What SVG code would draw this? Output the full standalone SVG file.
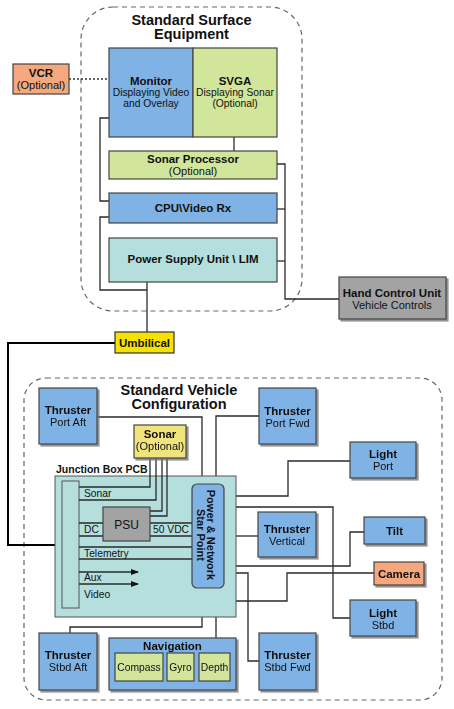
<svg xmlns="http://www.w3.org/2000/svg" width="454" height="709" viewBox="0 0 454 709">
<defs>
<style>
text{font-family:"Liberation Sans",Arial,sans-serif;fill:#111}
.b{font-weight:bold;font-size:11.5px}
.r{font-size:11px}
.s{font-size:10.3px}
.t{font-weight:bold;font-size:14.5px}
.m{text-anchor:middle}
.box{stroke:#444;stroke-width:1.2}
.blue{fill:#7FB2E5}
.green{fill:#D1E69B}
.teal{fill:#B4DFDD}
.orange{fill:#F5A77D}
.gray{fill:#A3A3A3}
.yel{fill:#F2E47C}
.c{fill:none;stroke:#2a2a2a;stroke-width:1.3}
.cont{fill:none;stroke:#666;stroke-width:1.2;stroke-dasharray:5,4}
</style>
<filter id="sh" x="-10%" y="-10%" width="130%" height="130%">
<feDropShadow dx="2" dy="2" stdDeviation="0.7" flood-color="#777" flood-opacity="0.8"/>
</filter>
<marker id="arr" markerWidth="8" markerHeight="6" refX="7" refY="3" orient="auto" markerUnits="userSpaceOnUse">
<path d="M0,0 L8,3 L0,6 Z" fill="#111"/>
</marker>
</defs>

<g id="containers">
<rect x="81" y="7" width="221" height="304" rx="32" class="cont" stroke="#555"/>
<rect x="24" y="378" width="418" height="322" rx="22" class="cont" stroke="#888"/>
<text x="191.5" y="24.5" class="t m">Standard Surface</text>
<text x="191.5" y="39" class="t m">Equipment</text>
<text x="179" y="394.5" class="t m">Standard Vehicle</text>
<text x="179" y="409" class="t m">Configuration</text>
</g>

<g id="connectors">
<path d="M69,79 H109" fill="none" stroke="#333" stroke-width="1.3" stroke-dasharray="2,2"/>
<path class="c" d="M109,118 H100 V201 H109"/>
<path class="c" d="M109,217 H100 V290 H147"/>
<path class="c" d="M147,282 V332"/>
<path class="c" d="M234,137 V151"/>
<path class="c" d="M277,164 H285 V299 H339"/>
<path class="c" d="M277,209 H285"/>
<path class="c" d="M277,261 H285"/>
<path fill="none" stroke="#000" stroke-width="2" d="M115,343 H8 V545 H55"/>
<path class="c" d="M97,417 H202 V484"/>
<path class="c" d="M259,416 H216 V484"/>
<path class="c" d="M202,588 V627 H70 V633"/>
<path class="c" d="M216,588 V638"/>
<path class="c" d="M236,496 H288 V461 H350"/>
<path class="c" d="M236,507 H333 V618 H350"/>
<path class="c" d="M236,536 H258"/>
<path class="c" d="M236,566 H350 V532 H364"/>
<path class="c" d="M236,573 H248 V661 H259"/>
<path class="c" d="M79,601 H287 V573 H374"/>
</g>

<g id="vcr">
<rect x="13" y="64" width="56" height="30" class="box orange"/>
<text x="41" y="77" class="b m">VCR</text>
<text x="41" y="88.5" class="r m">(Optional)</text>
</g>

<g id="monitor">
<rect x="109" y="48" width="84" height="89" class="box blue"/>
<text x="151" y="84.5" class="b m">Monitor</text>
<text x="151" y="96" class="s m">Displaying Video</text>
<text x="151" y="107" class="s m">and Overlay</text>
</g>

<g id="svga">
<rect x="193" y="48" width="84" height="89" class="box green"/>
<text x="235" y="84.5" class="b m">SVGA</text>
<text x="235" y="96" class="s m">Displaying Sonar</text>
<text x="235" y="107" class="s m">(Optional)</text>
</g>

<g id="sonar-processor">
<rect x="109" y="151" width="168" height="28" class="box green"/>
<text x="193" y="163" class="b m">Sonar Processor</text>
<text x="193" y="174.5" class="r m">(Optional)</text>
</g>

<g id="cpu">
<rect x="109" y="193" width="168" height="30" class="box blue"/>
<text x="193" y="212" class="b m">CPU\Video Rx</text>
</g>

<g id="psu-lim">
<rect x="109" y="238" width="168" height="44" class="box teal"/>
<text x="193" y="263" class="b m">Power Supply Unit \ LIM</text>
</g>

<g id="hand-control">
<rect x="339" y="277" width="107" height="42" class="box gray" filter="url(#sh)"/>
<text x="392" y="297" class="b m">Hand Control Unit</text>
<text x="392" y="308.5" class="r m">Vehicle Controls</text>
</g>

<g id="umbilical">
<rect x="115" y="332" width="59" height="21" fill="#F6E100" stroke="#333" stroke-width="1.2"/>
<text x="144.5" y="347" class="b m">Umbilical</text>
</g>

<g id="thruster-port-aft" filter="url(#sh)">
<rect x="39" y="388" width="58" height="56" class="box blue"/>
<text x="68" y="414" class="b m">Thruster</text>
<text x="68" y="425.5" class="r m">Port Aft</text>
</g>

<g id="thruster-port-fwd" filter="url(#sh)">
<rect x="259" y="388" width="57" height="56" class="box blue"/>
<text x="287.5" y="415" class="b m">Thruster</text>
<text x="287.5" y="426.5" class="r m">Port Fwd</text>
</g>

<g id="light-port" filter="url(#sh)">
<rect x="350" y="442" width="66" height="36" class="box blue"/>
<text x="383" y="458" class="b m">Light</text>
<text x="383" y="469.5" class="r m">Port</text>
</g>

<g id="junction-box">
<text x="56" y="473" font-weight="bold" font-size="10.5">Junction Box PCB</text>
<rect x="55" y="476" width="181" height="141" class="teal" stroke="#555" stroke-width="1"/>
<rect x="62" y="481" width="17" height="127" class="teal" stroke="#555" stroke-width="1"/>
<path class="c" d="M79,487 H150 V458"/>
<path class="c" d="M79,500 H156 V458"/>
<path class="c" d="M150,511 H162 V458"/>
<path class="c" d="M150,516 H167 V458"/>
<path class="c" d="M79,523 H103 M79,536 H103"/>
<path class="c" d="M150,523 H192 M150,536 H192"/>
<path class="c" d="M79,547 H192 M79,559 H192"/>
<path class="c" d="M79,572 H138" marker-end="url(#arr)"/>
<path class="c" d="M79,584 H138" marker-end="url(#arr)"/>
<text x="84" y="497" class="s">Sonar</text>
<text x="84" y="533" class="s">DC</text>
<text x="153" y="533" class="s">50 VDC</text>
<text x="84" y="557" class="s">Telemetry</text>
<text x="84" y="581" class="s">Aux</text>
<text x="84" y="598" class="s">Video</text>
</g>

<g id="psu">
<rect x="103" y="507" width="47" height="34" class="box gray"/>
<text x="126.5" y="529" class="m" font-size="12">PSU</text>
</g>

<g id="sonar" filter="url(#sh)">
<rect x="134" y="425" width="52" height="33" class="box yel"/>
<text x="160" y="438" class="b m">Sonar</text>
<text x="160" y="449.5" class="r m">(Optional)</text>
</g>

<g id="star-point">
<rect x="192" y="484" width="32" height="104" rx="5" class="box blue"/>
<g transform="translate(208,535) rotate(90)">
<text x="0" y="1" class="m" font-weight="bold" font-size="11">Power &amp; Network</text>
<text x="0" y="11" class="m" font-weight="bold" font-size="11">Star Point</text>
</g>
</g>

<g id="thruster-vertical" filter="url(#sh)">
<rect x="258" y="512" width="58" height="45" class="box blue"/>
<text x="287" y="533" class="b m">Thruster</text>
<text x="287" y="544.5" class="r m">Vertical</text>
</g>

<g id="tilt" filter="url(#sh)">
<rect x="364" y="517" width="61" height="27" class="box blue"/>
<text x="394.5" y="535" class="b m">Tilt</text>
</g>

<g id="camera" filter="url(#sh)">
<rect x="374" y="562" width="50" height="23" class="box orange"/>
<text x="399" y="578" class="b m">Camera</text>
</g>

<g id="light-stbd" filter="url(#sh)">
<rect x="350" y="600" width="66" height="36" class="box blue"/>
<text x="383" y="617" class="b m">Light</text>
<text x="383" y="628.5" class="r m">Stbd</text>
</g>

<g id="thruster-stbd-aft" filter="url(#sh)">
<rect x="39" y="633" width="58" height="57" class="box blue"/>
<text x="68" y="659" class="b m">Thruster</text>
<text x="68" y="670.5" class="r m">Stbd Aft</text>
</g>

<g id="navigation" filter="url(#sh)">
<rect x="109" y="638" width="127" height="52" class="box blue"/>
<text x="172.5" y="650" class="b m">Navigation</text>
<rect x="115" y="653" width="48" height="28" class="box green"/>
<rect x="167" y="653" width="27" height="28" class="box green"/>
<rect x="199" y="653" width="31" height="28" class="box green"/>
<text x="139" y="671" class="s m">Compass</text>
<text x="180.5" y="671" class="s m">Gyro</text>
<text x="214.5" y="671" class="s m">Depth</text>
</g>

<g id="thruster-stbd-fwd" filter="url(#sh)">
<rect x="259" y="633" width="57" height="57" class="box blue"/>
<text x="287.5" y="659" class="b m">Thruster</text>
<text x="287.5" y="670.5" class="r m">Stbd Fwd</text>
</g>
</svg>
